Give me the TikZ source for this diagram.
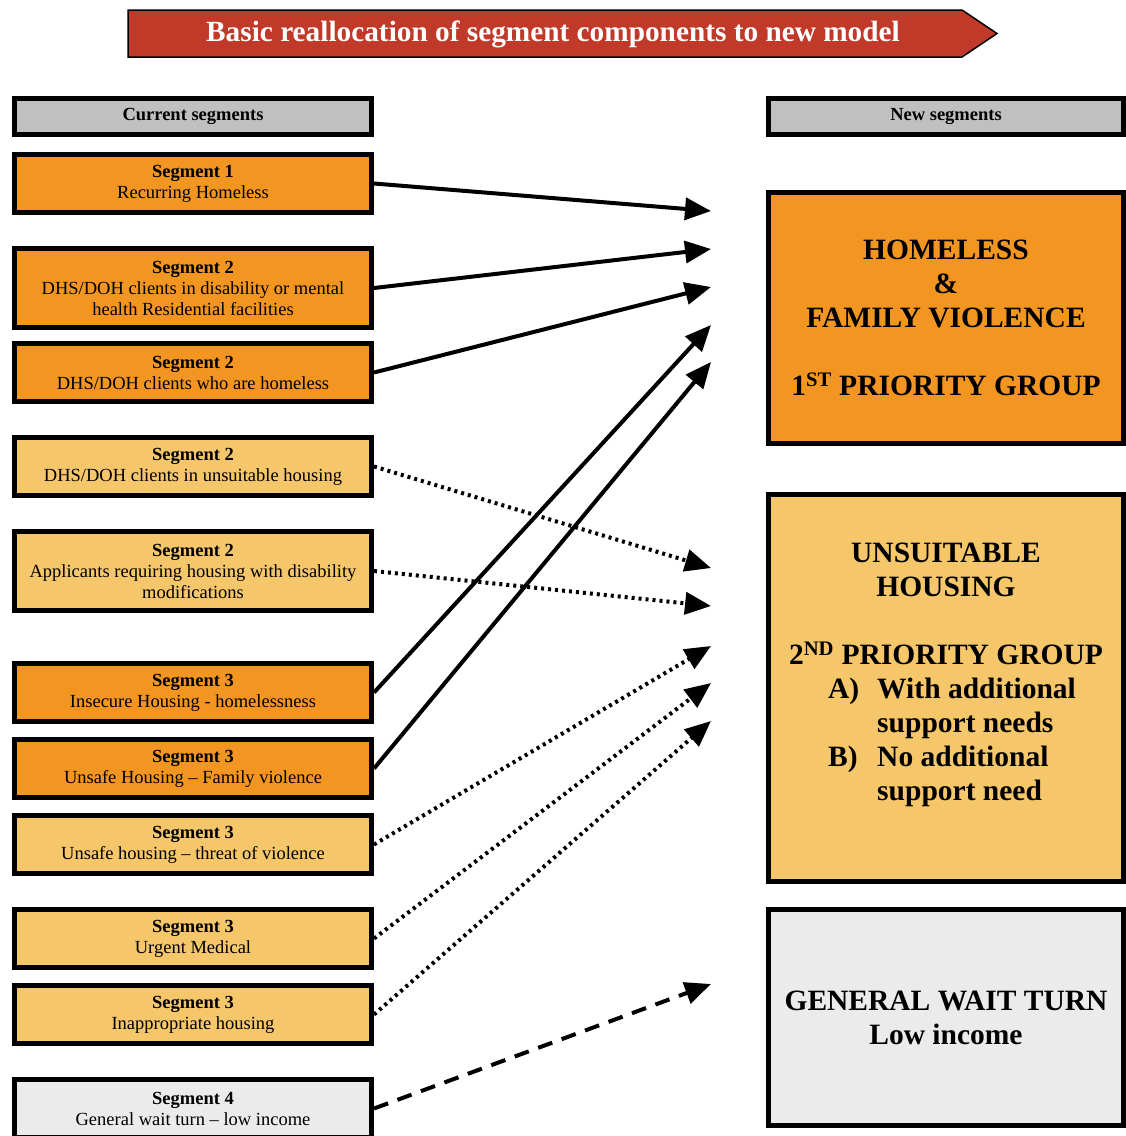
\documentclass[tikz,border=0pt]{standalone}
\usepackage{fontspec}
\setmainfont{Liberation Serif}
\usetikzlibrary{arrows.meta}
\definecolor{segorange}{RGB}{243,150,33}
\definecolor{seglight}{RGB}{246,198,107}
\definecolor{seggrey}{RGB}{192,192,192}
\definecolor{segpale}{RGB}{235,235,235}
\definecolor{titlered}{RGB}{193,57,40}

\begin{document}
\begin{tikzpicture}[x=1pt, y=-1pt,
  box/.style={draw, line width=5pt, inner sep=0pt, align=center, font=\fontsize{18.5}{21}\selectfont},
  lbox/.style={box, minimum width=357pt, minimum height=58pt},
  rbox/.style={box, minimum width=355pt},
  big/.style={align=center, font=\fontsize{29.5}{34}\selectfont\bfseries},
  link/.style={line width=4pt, -{Triangle[length=26pt,width=22pt]}},
  dots/.style={link, dash pattern=on 3pt off 4pt},
  dashes/.style={link, dash pattern=on 15pt off 10pt}]
  \path[use as bounding box] (0,0) rectangle (1126,1136);
  \clip (0,0) rectangle (1126,1136);
  % title banner
  \draw[fill=titlered, line width=1.5pt] (128,10) -- (962,10) -- (997,33.5) -- (962,57) -- (128,57) -- cycle;
  \node[text=white, font=\fontsize{29.3}{30}\selectfont\bfseries] (title) at (553,34) {Basic reallocation of segment components to new model};
  % current segments
  \node[lbox, fill=seggrey, minimum height=36pt] (cur) at (193,116.5) {\bfseries Current segments};
  \node[lbox, fill=segorange] (s1) at (193,183.5) {\bfseries Segment 1\\Recurring Homeless};
  \node[lbox, fill=segorange, minimum height=79pt] (s2a) at (193,288) {\bfseries Segment 2\\DHS/DOH clients in disability or mental\\health Residential facilities};
  \node[lbox, fill=segorange] (s2b) at (193,372.5) {\bfseries Segment 2\\DHS/DOH clients who are homeless};
  \node[lbox, fill=seglight] (s2c) at (193,466.5) {\bfseries Segment 2\\DHS/DOH clients in unsuitable housing};
  \node[lbox, fill=seglight, minimum height=79pt] (s2d) at (193,571) {\bfseries Segment 2\\Applicants requiring housing with disability\\modifications};
  \node[lbox, fill=segorange] (s3a) at (193,692.5) {\bfseries Segment 3\\Insecure Housing - homelessness};
  \node[lbox, fill=segorange] (s3b) at (193,768.5) {\bfseries Segment 3\\Unsafe Housing -- Family violence};
  \node[lbox, fill=seglight] (s3c) at (193,844.5) {\bfseries Segment 3\\Unsafe housing -- threat of violence};
  \node[lbox, fill=seglight] (s3d) at (193,938.5) {\bfseries Segment 3\\Urgent Medical};
  \node[lbox, fill=seglight] (s3e) at (193,1014.5) {\bfseries Segment 3\\Inappropriate housing};
  \node[lbox, fill=segpale] (s4) at (193,1108.5) {\bfseries Segment 4\\General wait turn -- low income};
  % new segments
  \node[rbox, fill=seggrey, minimum height=36pt] (new) at (946,116.5) {\bfseries New segments};
  \node[rbox, fill=segorange, minimum height=251pt, big] (hf) at (946,318) {HOMELESS\\\&\\FAMILY VIOLENCE\\[34pt]1\textsuperscript{ST} PRIORITY GROUP};
  \node[rbox, fill=seglight, minimum height=387pt] (us) at (946,688) {};
  \node[big] (ustext) at (946,677) {UNSUITABLE\\HOUSING\\[34pt]2\textsuperscript{ND} PRIORITY GROUP\\
    \hspace*{12pt}\begin{tabular}[t]{@{}l@{\hspace{18pt}}l@{}}A) & With additional\\ & support needs\\ B) & No additional\\ & support need\end{tabular}};
  \node[rbox, fill=segpale, minimum height=216pt, big] (gw) at (946,1017.5) {GENERAL WAIT TURN\\Low income};
  % arrow tips
  \coordinate (t1) at (711,211);   \coordinate (t2) at (711,249);
  \coordinate (t3) at (711,287);   \coordinate (t4) at (711,325);
  \coordinate (t5) at (711,362);   \coordinate (t6) at (711,568);
  \coordinate (t7) at (711,606);   \coordinate (t8) at (711,646);
  \coordinate (t9) at (711,683);   \coordinate (t10) at (711,721);
  \coordinate (t11) at (711,984);
  \draw[link] (s1.east) -- (t1);  \draw[link] (s2a.east) -- (t2);
  \draw[link] (s2b.east) -- (t3); \draw[link] (s3a.east) -- (t4);
  \draw[link] (s3b.east) -- (t5);
  \draw[dots] (s2c.east) -- (t6); \draw[dots] (s2d.east) -- (t7);
  \draw[dots] (s3c.east) -- (t8); \draw[dots] (s3d.east) -- (t9);
  \draw[dots] (s3e.east) -- (t10);
  \draw[dashes] (s4.east) -- (t11);
\end{tikzpicture}
\end{document}
